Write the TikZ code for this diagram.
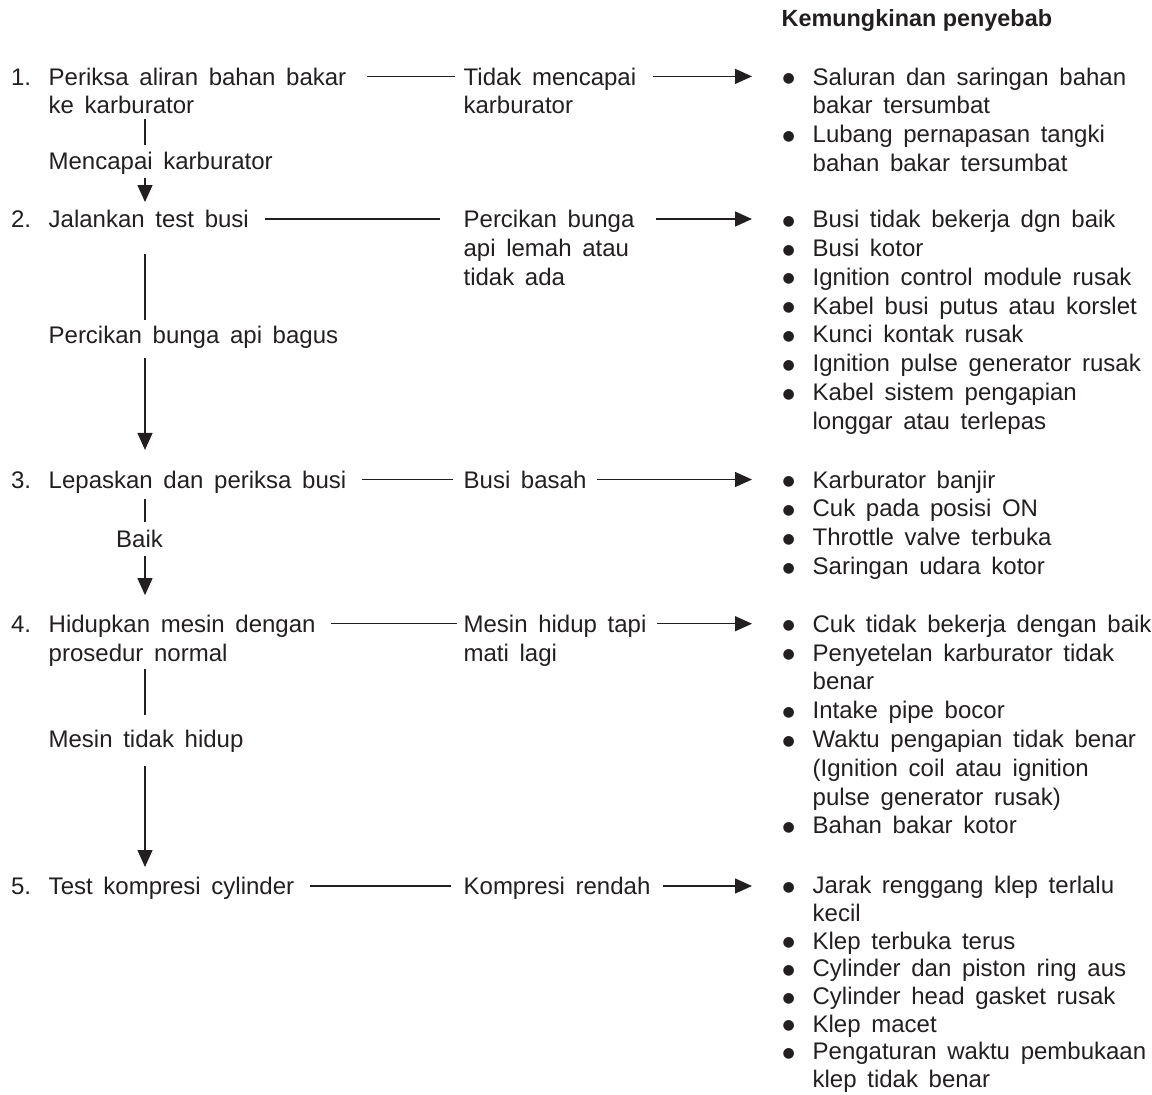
\documentclass[tikz,border=0pt]{standalone}
\usepackage{fontspec}
\setmainfont{Liberation Sans}[WordSpace=1.6]
\newfontfamily\headfont{Liberation Sans}
\newfontfamily\dotfont{DejaVu Sans}
\usepackage{tikz}
\usetikzlibrary{arrows.meta}
\definecolor{inkc}{RGB}{35,31,32}
\newcommand{\fs}{\fontsize{12pt}{14.4pt}\selectfont}
\newcommand{\numtab}[1]{\begin{tabular}{@{}p{18.8pt}@{}l@{}}#1\end{tabular}}
\newcommand{\bultab}[1]{\begin{tabular}{@{}p{14.75pt}@{}l@{}}#1\end{tabular}}
\newcommand{\plaintab}[1]{\begin{tabular}{@{}l@{}}#1\end{tabular}}
\newcommand{\bu}{\hspace{-.3pt}\raisebox{1.2pt}{\dotfont\fontsize{7pt}{8pt}\selectfont ●}}

\begin{document}
\begin{tikzpicture}[x=0.5pt,y=-0.5pt,line width=.65pt,draw=inkc,
  txt/.style={anchor=north west,inner sep=0pt,text=inkc,font=\fs},
  arr/.style={-{Triangle[length=8.5pt,width=7.5pt]}}]
\useasboundingbox (0,0) rectangle (1152,1094);
\coordinate (ax) at (145,0);
\node[anchor=base west,inner sep=0pt,text=inkc,font=\headfont\bfseries\fontsize{11.7pt}{14.4pt}\selectfont] (hd) at (781,26) {Kemungkinan penyebab};
% langkah pemeriksaan
\node[txt] (s1) at (10.5,64.2)  {\numtab{1. & Periksa aliran bahan bakar\\ & ke karburator}};
\node[txt] (s2) at (10.5,206.8) {\numtab{2. & Jalankan test busi}};
\node[txt] (s3) at (10.5,467.3) {\numtab{3. & Lepaskan dan periksa busi}};
\node[txt] (s4) at (10.5,611.5) {\numtab{4. & Hidupkan mesin dengan\\ & prosedur normal}};
\node[txt] (s5) at (10.5,873.8) {\numtab{5. & Test kompresi cylinder}};
\node[txt] (l1) at (48,149.1)   {\plaintab{Mencapai karburator}};
\node[txt] (l2) at (48,322.8)   {\plaintab{Percikan bunga api bagus}};
\node[txt] (l3) at (115.5,526.3){\plaintab{Baik}};
\node[txt] (l4) at (48,726.5)   {\plaintab{Mesin tidak hidup}};
% gejala
\node[txt] (m1) at (463,64.2)  {\plaintab{Tidak mencapai\\karburator}};
\node[txt] (m2) at (463,206.8) {\plaintab{Percikan bunga\\api lemah atau\\tidak ada}};
\node[txt] (m3) at (463,467.3) {\plaintab{Busi basah}};
\node[txt] (m4) at (463,611.5) {\plaintab{Mesin hidup tapi\\mati lagi}};
\node[txt] (m5) at (463,873.8) {\plaintab{Kompresi rendah}};
% kemungkinan penyebab
\node[txt] (r1) at (782.5,64.2) {\bultab{\bu & Saluran dan saringan bahan\\ & bakar tersumbat\\
  \bu & Lubang pernapasan tangki\\ & bahan bakar tersumbat}};
\node[txt] (r2) at (782.5,206.8) {\bultab{\bu & Busi tidak bekerja dgn baik\\ \bu & Busi kotor\\
  \bu & Ignition control module rusak\\ \bu & Kabel busi putus atau korslet\\ \bu & Kunci kontak rusak\\
  \bu & Ignition pulse generator rusak\\ \bu & Kabel sistem pengapian\\ & longgar atau terlepas}};
\node[txt] (r3) at (782.5,467.3) {\bultab{\bu & Karburator banjir\\ \bu & Cuk pada posisi ON\\
  \bu & Throttle valve terbuka\\ \bu & Saringan udara kotor}};
\node[txt] (r4) at (782.5,611.5) {\bultab{\bu & Cuk tidak bekerja dengan baik\\ \bu & Penyetelan karburator tidak\\ & benar\\
  \bu & Intake pipe bocor\\ \bu & Waktu pengapian tidak benar\\ & (Ignition coil atau ignition\\
  & pulse generator rusak)\\ \bu & Bahan bakar kotor}};
\node[txt] (r5) at (782.5,873.8) {\renewcommand{\arraystretch}{.96}\bultab{\bu & Jarak renggang klep terlalu\\ & kecil\\ \bu & Klep terbuka terus\\
  \bu & Cylinder dan piston ring aus\\ \bu & Cylinder head gasket rusak\\ \bu & Klep macet\\
  \bu & Pengaturan waktu pembukaan\\ & klep tidak benar}};
% alur ke bawah
\draw[shorten <=-2.15pt,shorten >=2pt] (s1.south -| ax) -- (l1.north -| ax);
\draw[arr,shorten <=-.4pt,shorten >=2.4pt] (l1.south -| ax) -- (s2.north -| ax);
\draw[shorten <=8.7pt,shorten >=1.4pt] (s2.south -| ax) -- (l2.north -| ax);
\draw[arr,shorten <=2.7pt,shorten >=8.7pt] (l2.south -| ax) -- (s3.north -| ax);
\draw[shorten <=1pt,shorten >=2.1pt] (s3.south -| ax) -- (l3.north -| ax);
\draw[arr,shorten >=8.2pt] (l3.south -| ax) -- (s4.north -| ax);
\draw[shorten <=-.9pt,shorten >=5.7pt] (s4.south -| ax) -- (l4.north -| ax);
\draw[arr,shorten <=4.8pt,shorten >=3.4pt] (l4.south -| ax) -- (s5.north -| ax);
% alur ke kanan
\foreach \i/\ga/\gb/\gc in {1/10/4/8,2/7.5/11.5/10.5,3/7.5/5/5,4/7.5/3/5,5/7.5/6/6}{
  \draw ([xshift=\ga pt,yshift=-6.1pt]s\i.north east) -- ([xshift=-\gb pt,yshift=-6.1pt]m\i.north west);
  \draw[arr] ([xshift=\gc pt,yshift=-6.1pt]m\i.north east) -- ([xshift=-15.25pt,yshift=-6.1pt]r\i.north west);
}
\end{tikzpicture}
\end{document}
